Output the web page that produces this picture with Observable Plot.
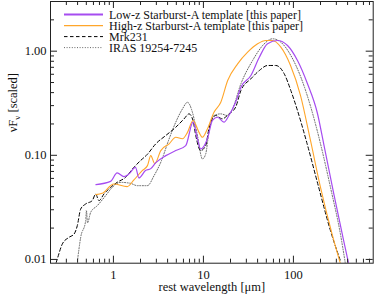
<!DOCTYPE html>
<html><head><meta charset="utf-8">
<script src="https://cdn.jsdelivr.net/npm/d3@7"></script>
<script src="https://cdn.jsdelivr.net/npm/@observablehq/plot@0.6"></script>
<style>body{margin:0;background:#fff} svg{display:block}</style>
</head><body><div id="chart"></div>
<script>
// Low-z Starburst-A template
const lowzWave = [0.64,0.93,1.10,1.31,1.49,1.76,1.92,2.27,2.60,2.96,3.82,4.93,6.36,7.67,8.58,9.33,11.07,12.6,14.3,16.9,19.2,22.8,26.1,33.7,41.8,51.6,66.6,86.0,111,143,185,217,281,362,411];
const lowzFlux = [0.0523,0.0562,0.0677,0.0624,0.0663,0.0767,0.0606,0.0713,0.0745,0.085,0.0993,0.111,0.124,0.208,0.144,0.115,0.144,0.216,0.232,0.208,0.241,0.323,0.451,0.584,0.875,1.178,1.267,1.134,0.814,0.489,0.252,0.129,0.0426,0.0151,0.0091];
// High-z Starburst-A template
const highzWave = [0.64,0.75,1.01,1.42,1.69,2.09,2.39,2.60,2.88,3.36,4.16,4.93,5.85,6.65,7.67,8.94,9.75,11.07,13.1,15.6,18.6,24.0,31.0,40.0,49.4,58.6,72.5,92.9,120,155,200,269,333];
const highzFlux = [0.0419,0.0431,0.0531,0.050,0.058,0.0713,0.0796,0.0993,0.0832,0.111,0.129,0.149,0.144,0.166,0.216,0.166,0.149,0.179,0.259,0.323,0.523,0.756,0.978,1.178,1.267,1.267,1.093,0.729,0.375,0.138,0.0492,0.0175,0.0091];
// Mrk231
const mrkWave = [0.231,0.238,0.271,0.321,0.365,0.397,0.433,0.492,0.582,0.635,0.691,0.785,0.931,1.10,1.365,1.69,2.00,2.37,2.96,3.82,4.93,6.10,6.92,7.67,8.22,9.33,10.6,11.5,13.7,16.2,19.2,22.8,26.1,33.7,41.8,51.6,63.8,79.1,93.6,111,142,191,258,333];
const mrkFlux = [0.0093,0.0101,0.0141,0.0163,0.0175,0.0211,0.0305,0.0341,0.0367,0.0425,0.0367,0.0425,0.0492,0.055,0.0614,0.0767,0.0889,0.1016,0.129,0.155,0.186,0.224,0.250,0.216,0.155,0.111,0.124,0.179,0.241,0.224,0.250,0.290,0.419,0.543,0.652,0.729,0.729,0.606,0.419,0.269,0.129,0.0492,0.0189,0.0097];
// IRAS 19254-7245
const irasWave = [0.401,0.433,0.492,0.502,0.515,0.559,0.661,0.820,0.97,1.20,1.55,1.84,2.09,2.39,2.83,3.36,4.16,4.93,5.85,6.65,7.55,8.58,9.75,10.6,11.5,13.1,15.6,18.5,21.0,26.1,35.2,47.5,58.6,72.5,93.6,121,156,200,258,333,378];
const irasFlux = [0.0101,0.0163,0.0236,0.0294,0.0225,0.0283,0.0328,0.041,0.0492,0.055,0.0538,0.0511,0.0511,0.0511,0.0638,0.0857,0.144,0.208,0.279,0.323,0.259,0.155,0.0923,0.103,0.166,0.241,0.250,0.241,0.279,0.486,0.814,1.178,1.316,1.22,0.909,0.562,0.290,0.129,0.0492,0.0175,0.0091];

const xMajor = [1, 10, 100];
const xMinor = [0.2,0.3,0.4,0.5,0.6,0.7,0.8,0.9,2,3,4,5,6,7,8,9,20,30,40,50,60,70,80,90,200,300,400,500,600,700];
const yMajor = [0.01, 0.1, 1];
const yMinor = [0.02,0.03,0.04,0.05,0.06,0.07,0.08,0.09,0.2,0.3,0.4,0.5,0.6,0.7,0.8,0.9,2,3];
const xTickLabels = ["1", "10", "100"];
const yTickLabels = ["0.01", "0.10", "1.00"];

const legendNames = ["Low-z Starburst-A template [this paper]", "High-z Starburst-A template [this paper]", "Mrk231", "IRAS 19254-7245"];
const colors = {low: "#a64cf0", high: "#ffa62b", mrk: "#000000", iras: "#666666"};

const toRows = (w, f) => w.map((x, i) => ({x, y: f[i]}));

const W = 374, H = 299, mL = 50, mR = 1.3, mT = 1, mB = 36.3;
const innerW = W - mL - mR, innerH = H - mT - mB;
const majL = 7, minL = 4;
const FONT = "'Liberation Serif', 'Times New Roman', serif";

const plot = Plot.plot({
  width: W, height: H,
  marginLeft: mL, marginRight: mR, marginTop: mT, marginBottom: mB,
  style: {fontFamily: FONT, fontSize: "12.5px", background: "#fff", color: "#111"},
  x: {type: "log", domain: [0.2, 770], axis: null},
  y: {type: "log", domain: [0.0092, 3.0], axis: null},
  marks: [
    Plot.line(toRows(irasWave, irasFlux), {x: "x", y: "y", stroke: colors.iras, strokeWidth: 1, strokeDasharray: "1,1.6", curve: "monotone-x", clip: true}),
    Plot.line(toRows(mrkWave, mrkFlux), {x: "x", y: "y", stroke: colors.mrk, strokeWidth: 1, strokeDasharray: "3.5,2.5", curve: "monotone-x", clip: true}),
    Plot.line(toRows(highzWave, highzFlux), {x: "x", y: "y", stroke: colors.high, strokeWidth: 1.1, curve: "monotone-x", clip: true}),
    Plot.line(toRows(lowzWave, lowzFlux), {x: "x", y: "y", stroke: colors.low, strokeWidth: 1.2, curve: "monotone-x", clip: true}),
    // inward ticks, all four sides
    Plot.ruleX(xMajor, {x: d => d, insetTop: innerH - majL, stroke: "#222"}),
    Plot.ruleX(xMinor, {x: d => d, insetTop: innerH - minL, stroke: "#222"}),
    Plot.ruleX(xMajor, {x: d => d, insetBottom: innerH - majL, stroke: "#222"}),
    Plot.ruleX(xMinor, {x: d => d, insetBottom: innerH - minL, stroke: "#222"}),
    Plot.ruleY(yMajor, {y: d => d, insetRight: innerW - majL, stroke: "#222"}),
    Plot.ruleY(yMinor, {y: d => d, insetRight: innerW - minL, stroke: "#222"}),
    Plot.ruleY(yMajor, {y: d => d, insetLeft: innerW - majL, stroke: "#222"}),
    Plot.ruleY(yMinor, {y: d => d, insetLeft: innerW - minL, stroke: "#222"}),
    Plot.frame({stroke: "#222"}),
    // tick labels
    Plot.text(xMajor, {x: d => d, text: (d, i) => xTickLabels[i], frameAnchor: "bottom", dy: 7, lineAnchor: "top", fill: "#111"}),
    Plot.text(yMajor, {y: d => d, text: (d, i) => yTickLabels[i], frameAnchor: "left", dx: -4, textAnchor: "end", lineAnchor: "middle", fill: "#111"}),
    // axis titles
    Plot.text(["rest wavelength [μm]"], {frameAnchor: "bottom", dy: 23.5, lineAnchor: "middle", fill: "#111"}),
    Plot.text(["νFν [scaled]"], {frameAnchor: "left", dx: -38, rotate: -90, lineAnchor: "middle", fill: "#111"})
  ]
});
document.getElementById("chart").appendChild(plot);

const svg = d3.select(plot);
// subscript nu in y label
svg.selectAll("text").filter(function() { return this.textContent === "νFν [scaled]"; })
  .each(function() {
    const t = d3.select(this);
    t.text(null);
    t.append("tspan").text("νF");
    t.append("tspan").attr("dy", "3").attr("font-size", "9").text("ν");
    t.append("tspan").attr("dy", "-3").text(" [scaled]");
  });

// legend
const leg = svg.append("g").attr("font-family", FONT).attr("font-size", 12).attr("text-anchor", "start");
const legStyles = [
  {stroke: colors.low, width: 2, dash: null},
  {stroke: colors.high, width: 1.3, dash: null},
  {stroke: colors.mrk, width: 1, dash: "3.5,2.5"},
  {stroke: colors.iras, width: 1, dash: "1,1.6"}
];
legendNames.forEach((name, i) => {
  const y = 14.6 + i * 11;
  const s = legStyles[i];
  const ln = leg.append("line").attr("x1", 64).attr("x2", 103).attr("y1", y).attr("y2", y)
    .attr("stroke", s.stroke).attr("stroke-width", s.width);
  if (s.dash) ln.attr("stroke-dasharray", s.dash);
  leg.append("text").attr("x", 109).attr("y", y + 4.2).attr("fill", "#111").attr("text-anchor", "start").text(name);
});
</script>
</body></html>
